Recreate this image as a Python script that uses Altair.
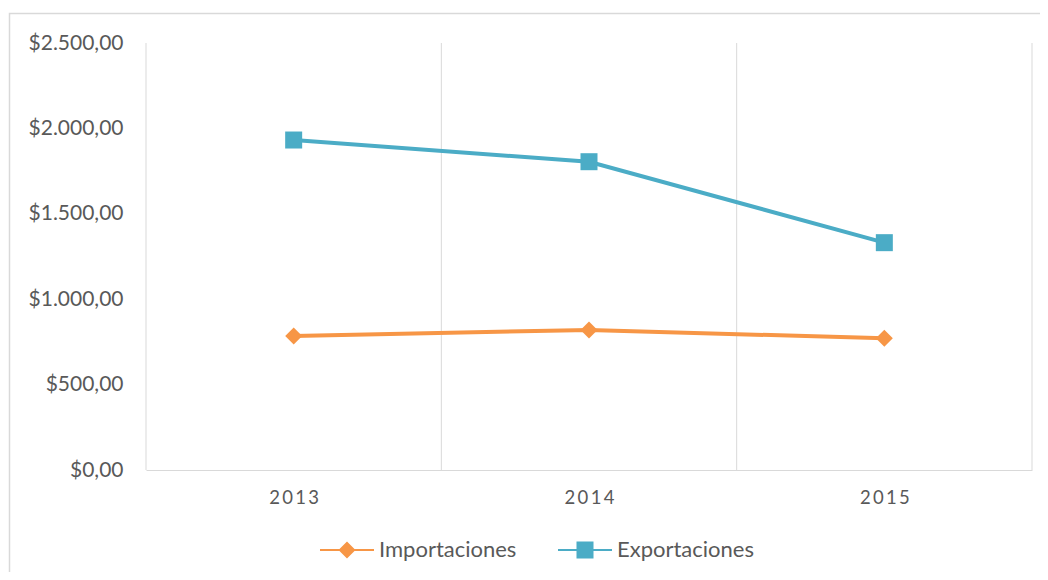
import altair as alt
import pandas as pd

years = [2013, 2014, 2015]
series_names = ["Importaciones", "Exportaciones"]
importaciones = [785, 820, 771]
exportaciones = [1932, 1805, 1331]
y_ticks = [0, 500, 1000, 1500, 2000, 2500]
boundaries = [2012.5, 2013.5, 2014.5, 2015.5]
colors = ["#F79646", "#4BACC6"]

rows = []
for name, vals in zip(series_names, [importaciones, exportaciones]):
    for yr, v in zip(years, vals):
        rows.append({"year": yr, "value": v, "series": name})
df = pd.DataFrame(rows)
bdf = pd.DataFrame({"b": boundaries})

FONT = "Lato"
TXT = "#595959"
GRID = "#d9d9d9"

xscale = alt.Scale(domain=[boundaries[0], boundaries[-1]], nice=False, zero=False)
yscale = alt.Scale(domain=[0, 2500], nice=False)
cscale = alt.Scale(domain=series_names, range=colors)

x_axis = alt.Axis(values=years, format="d", title=None, grid=False, ticks=False,
                  domain=True, domainColor=GRID, domainWidth=1,
                  labelExpr="join(split(datum.label, ''), '\u2009')",
                  labelFont=FONT, labelFontSize=18.5, labelColor=TXT, labelPadding=18)
y_axis = alt.Axis(values=y_ticks, title=None, grid=False, ticks=False, domain=False,
                  labelExpr="'$' + replace(replace(replace(format(datum.value, ',.2f'), ',', '#'), '.', ','), '#', '.')",
                  labelFont=FONT, labelFontSize=21, labelColor=TXT, labelPadding=23)

frame = alt.Chart(pd.DataFrame({"a": [0]})).mark_rect(
    fill=None, stroke=GRID, strokeWidth=1.5
).encode(x=alt.value(-136.5), x2=alt.value(1000), y=alt.value(-29.5), y2=alt.value(700))

grid = alt.Chart(bdf).mark_rule(color=GRID, strokeWidth=1).encode(
    x=alt.X("b:Q", scale=xscale, axis=x_axis)
)

lines = alt.Chart(df).mark_line(strokeWidth=4).encode(
    x=alt.X("year:Q", scale=xscale, axis=x_axis),
    y=alt.Y("value:Q", scale=yscale, axis=y_axis),
    color=alt.Color("series:N", scale=cscale, legend=None),
)

points = alt.Chart(df).mark_point(filled=True, size=289, opacity=1).encode(
    x=alt.X("year:Q", scale=xscale, axis=x_axis),
    y=alt.Y("value:Q", scale=yscale, axis=y_axis),
    color=alt.Color("series:N", scale=cscale, legend=None),
    shape=alt.Shape("series:N", scale=alt.Scale(domain=series_names, range=["diamond", "square"]), legend=None),
)

line_path = "M-1,-0.037H1V0.037H-1Z"
leg_paths = [
    line_path + "M0,-0.315L0.315,0L0,0.315L-0.315,0Z",
    line_path + "M-0.315,-0.315H0.315V0.315H-0.315Z",
]
leg = alt.Legend(title=None, orient="none", legendX=174, legendY=480, direction="horizontal",
                 symbolSize=2916, symbolStrokeWidth=0, labelFont=FONT, labelFontSize=22,
                 labelColor=TXT, labelOffset=5, columnPadding=41, padding=0)
legend_layer = alt.Chart(df).transform_filter("false").mark_point(filled=True, size=2916, opacity=1).encode(
    color=alt.Color("series:N", scale=cscale, legend=leg),
    shape=alt.Shape("series:N", scale=alt.Scale(domain=series_names, range=leg_paths), legend=leg),
)

chart = alt.layer(frame, grid, lines, points, legend_layer).resolve_scale(
    color="independent", shape="independent"
).properties(
    width=886, height=427,
    padding={"left": 138, "top": 35, "right": 8, "bottom": 102},
    autosize=alt.AutoSizeParams(type="none"),
).configure_view(stroke=None)

chart.save("out.html", embed_options={"renderer": "svg", "actions": False})
